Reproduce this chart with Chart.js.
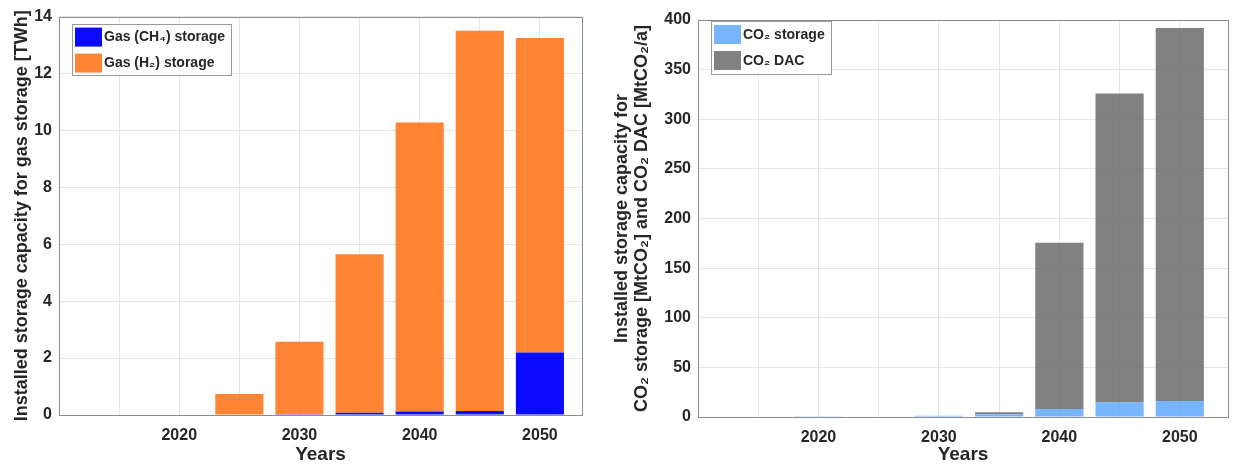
<!DOCTYPE html>
<html>
<head>
<meta charset="utf-8">
<script src="https://cdn.jsdelivr.net/npm/chart.js@4.4.1/dist/chart.umd.min.js"></script>
<style>
  html, body { margin: 0; padding: 0; background: #fff; }
  body { width: 1248px; height: 468px; position: relative; overflow: hidden; }
  #gasChart { position: absolute; left: 0; top: 0; }
  #co2Chart { position: absolute; left: 600px; top: 0; }
</style>
</head>
<body>
<canvas id="gasChart" width="600" height="468"></canvas>
<canvas id="co2Chart" width="648" height="468"></canvas>
<script>
// dados
const anos = [2020, 2025, 2030, 2035, 2040, 2045, 2050];
const gasCH4 = [0.02, 0, 0.03, 0.08, 0.12, 0.14, 2.2];
const gasH2 = [0, 0.74, 2.54, 5.57, 10.16, 13.36, 11.05];
const co2Storage = [0.3, 0.5, 1.3, 2.7, 8, 14.5, 16];
const co2DAC = [0, 0, 0, 2, 167.5, 311.5, 376];
const xTicks = [2020, 2030, 2040, 2050];
const xGrade = [2010, 2015, 2020, 2025, 2030, 2035, 2040, 2045, 2050];
const gasTicks = [0, 2, 4, 6, 8, 10, 12, 14];
const co2Ticks = [0, 50, 100, 150, 200, 250, 300, 350, 400];

const FONT = "'Liberation Sans', Arial, sans-serif";
const corTexto = '#262626';

const pontos = (vals) => anos.map((x, i) => ({ x: x, y: vals[i] }));

// caixa em volta da área do gráfico + legenda dentro
const caixaLegenda = {
  id: 'caixaLegenda',
  afterDraw(chart, args, opts) {
    const ctx = chart.ctx;
    const a = chart.chartArea;
    ctx.save();
    ctx.strokeStyle = '#8c8c8c';
    ctx.lineWidth = 1;
    ctx.strokeRect(Math.round(a.left) + 0.5, Math.round(a.top) + 0.5,
      Math.round(a.right - a.left), Math.round(a.bottom - a.top));

    const bx = a.left + opts.dx, by = a.top + opts.dy;
    ctx.fillStyle = '#fff';
    ctx.fillRect(bx, by, opts.w, opts.h);
    ctx.strokeStyle = '#9a9a9a';
    ctx.strokeRect(Math.round(bx) + 0.5, Math.round(by) + 0.5, opts.w, opts.h);
    ctx.font = 'bold 14px ' + FONT;
    ctx.textBaseline = 'middle';
    chart.data.datasets.forEach((ds, i) => {
      const sy = by + 4 + i * 26;
      ctx.fillStyle = ds.backgroundColor;
      ctx.fillRect(bx + 3, sy, 27, 19);
      ctx.fillStyle = corTexto;
      ctx.fillText(ds.label, bx + 32, sy + 10);
    });
    ctx.restore();
  }
};

function fazerGrafico(id, datasets, yMax, yStep, xMax, yTitulo, tamanhos) {
  const ctx = document.getElementById(id).getContext('2d');
  return new Chart(ctx, {
    type: 'bar',
    data: { datasets: datasets },
    plugins: [caixaLegenda],
    options: {
      responsive: false,
      animation: false,
      layout: { padding: { top: tamanhos.top, right: tamanhos.right, left: 0, bottom: 0 } },
      plugins: {
        legend: { display: false },
        tooltip: { enabled: false },
        caixaLegenda: tamanhos.legenda
      },
      scales: {
        x: {
          type: 'linear',
          stacked: true,
          offset: false,
          min: 2010,
          max: xMax,
          afterBuildTicks: (s) => { s.ticks = xGrade.map(v => ({ value: v })); },
          afterFit: (s) => { s.height = tamanhos.xAltura; },
          grid: { offset: false, color: 'rgba(0,0,0,0.09)', drawTicks: false },
          border: { display: false },
          ticks: {
            autoSkip: false,
            maxRotation: 0,
            padding: 11,
            color: corTexto,
            font: { family: FONT, size: 16, weight: 'bold' },
            callback: (v) => xTicks.includes(v) ? String(v) : ''
          },
          title: {
            display: true,
            text: 'Years',
            color: corTexto,
            font: { family: FONT, size: 19, weight: 'bold', lineHeight: 1.1 },
            padding: { top: 0, bottom: 3 }
          }
        },
        y: {
          stacked: true,
          min: 0,
          max: yMax,
          afterFit: (s) => { s.width = tamanhos.yLargura; },
          grid: { color: 'rgba(0,0,0,0.09)', drawTicks: false },
          border: { display: false },
          ticks: {
            stepSize: yStep,
            padding: 7,
            color: corTexto,
            font: { family: FONT, size: 16, weight: 'bold' }
          },
          title: {
            display: true,
            text: yTitulo,
            color: corTexto,
            font: { family: FONT, size: 18, weight: 'bold', lineHeight: 1.1 },
            padding: { top: tamanhos.tituloPad, bottom: 0 }
          }
        }
      }
    }
  });
}

const barra = { barPercentage: 0.8, categoryPercentage: 1.0, borderWidth: 0 };

fazerGrafico('gasChart', [
  Object.assign({ label: 'Gas (CH\u2084) storage', data: pontos(gasCH4), backgroundColor: 'rgba(0,0,255,0.96)' }, barra),
  Object.assign({ label: 'Gas (H\u2082) storage', data: pontos(gasH2), backgroundColor: 'rgba(255,120,30,0.9)' }, barra)
], gasTicks[gasTicks.length - 1], 2, 2053.5,
  'Installed storage capacity for gas storage [TWh]',
  { top: 16, right: 18, xAltura: 53, yLargura: 59, tituloPad: 12,
    legenda: { dx: 13, dy: 7, w: 159, h: 51 } });

fazerGrafico('co2Chart', [
  Object.assign({ label: 'CO\u2082 storage', data: pontos(co2Storage), backgroundColor: 'rgba(100,170,255,0.87)' }, barra),
  Object.assign({ label: 'CO\u2082 DAC', data: pontos(co2DAC), backgroundColor: 'rgba(110,110,110,0.87)' }, barra)
], co2Ticks[co2Ticks.length - 1], 50, 2054,
  ['Installed storage capacity for', 'CO\u2082 storage [MtCO\u2082] and CO\u2082 DAC [MtCO\u2082/a]'],
  { top: 20, right: 20, xAltura: 51, yLargura: 98, tituloPad: 12,
    legenda: { dx: 13, dy: 1, w: 120, h: 53 } });
</script>
</body>
</html>
